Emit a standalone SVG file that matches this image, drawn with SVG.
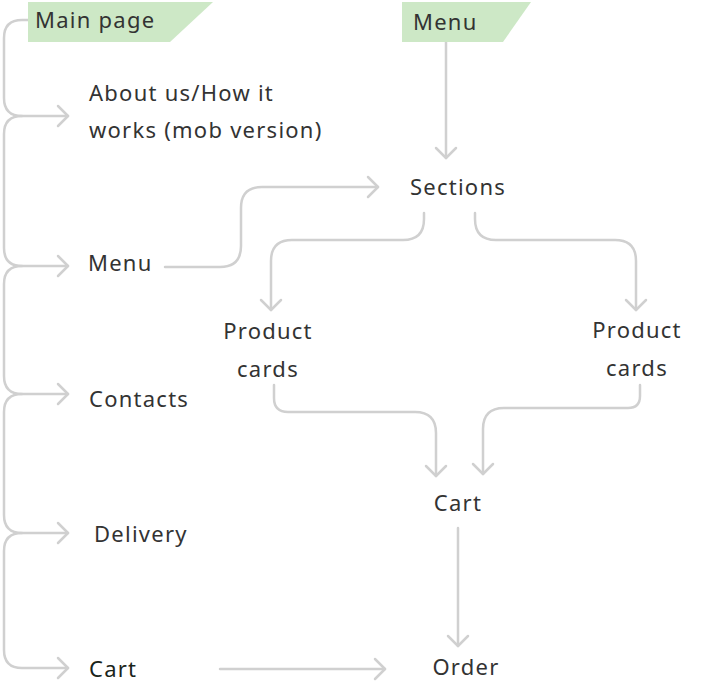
<svg xmlns="http://www.w3.org/2000/svg" width="703" height="689" viewBox="0 0 703 689">
<style>
.t{font-family:"Noto Sans","Open Sans",sans-serif;font-size:22px;fill:#333;letter-spacing:1.25px}
.c{fill:none;stroke:#d0d0d0;stroke-width:2.5;stroke-linecap:round;stroke-linejoin:round}
.b{fill:#cde8c6}
</style>
<defs>
<marker id="a" markerUnits="userSpaceOnUse" markerWidth="24" markerHeight="24" viewBox="-12 -12 24 24" refX="0" refY="0" orient="auto">
<path d="M-10,-10 L0,0 L-10,10" fill="none" stroke="#d0d0d0" stroke-width="2.5" stroke-linecap="round" stroke-linejoin="round"/>
</marker>
</defs>
<g id="connectors">
<path class="c" d="M28,20 H22 Q4,20 4,38 V98 Q4,116 22,116 H68" marker-end="url(#a)"/>
<path class="c" d="M22,116 Q4,116 4,134 V248 Q4,266 22,266 H68" marker-end="url(#a)"/>
<path class="c" d="M22,266 Q4,266 4,284 V376 Q4,394 22,394 H68" marker-end="url(#a)"/>
<path class="c" d="M22,394 Q4,394 4,412 V515 Q4,533 22,533 H68" marker-end="url(#a)"/>
<path class="c" d="M22,533 Q4,533 4,551 V650 Q4,668 22,668 H68" marker-end="url(#a)"/>
<path class="c" d="M446,40 V158" marker-end="url(#a)"/>
<path class="c" d="M165,267 H220 Q241,267 241,246 V208 Q241,187 262,187 H378" marker-end="url(#a)"/>
<path class="c" d="M424,213 V219 Q424,240 403,240 H292 Q271,240 271,261 V310" marker-end="url(#a)"/>
<path class="c" d="M475,213 V219 Q475,240 496,240 H615 Q636,240 636,261 V310" marker-end="url(#a)"/>
<path class="c" d="M274,385 V398 Q274,412 288,412 H415 Q436,412 436,433 V476" marker-end="url(#a)"/>
<path class="c" d="M640,385 V396 Q640,408 628,408 H504 Q483,408 483,429 V474" marker-end="url(#a)"/>
<path class="c" d="M458,528 V646" marker-end="url(#a)"/>
<path class="c" d="M220,669 H385" marker-end="url(#a)"/>
</g>
<g id="main-page">
<polygon class="b" points="28,2 213,2 170,42 28,42"/>
<text class="t" x="35" y="28">Main page</text>
</g>
<g id="menu-top">
<polygon class="b" points="402,2 531,2 503,42 402,42"/>
<text class="t" x="413" y="30">Menu</text>
</g>
<g id="about">
<text class="t" x="89" y="101">About us/How it</text>
<text class="t" x="89" y="138">works (mob version)</text>
</g>
<g id="menu"><text class="t" x="88" y="271">Menu</text></g>
<g id="contacts"><text class="t" x="89" y="407">Contacts</text></g>
<g id="delivery"><text class="t" x="94" y="542">Delivery</text></g>
<g id="cart-left"><text class="t" x="89" y="677" style="fill:#1a241a">Cart</text></g>
<g id="sections"><text class="t" x="458" y="195" text-anchor="middle">Sections</text></g>
<g id="product-cards-1">
<text class="t" x="268" y="339" text-anchor="middle">Product</text>
<text class="t" x="268" y="377" text-anchor="middle">cards</text>
</g>
<g id="product-cards-2">
<text class="t" x="637" y="338" text-anchor="middle">Product</text>
<text class="t" x="637" y="376" text-anchor="middle">cards</text>
</g>
<g id="cart"><text class="t" x="458" y="511" text-anchor="middle">Cart</text></g>
<g id="order"><text class="t" x="466" y="675" text-anchor="middle">Order</text></g>
</svg>
